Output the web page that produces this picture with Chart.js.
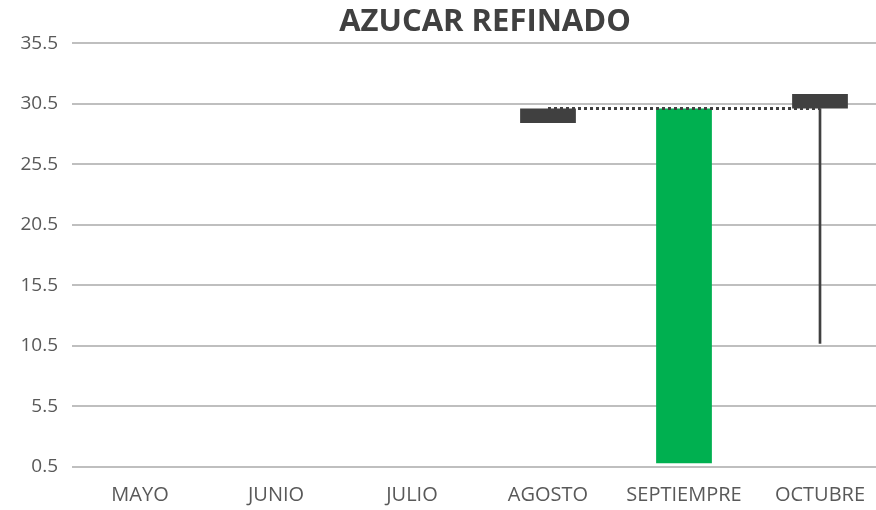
<!DOCTYPE html>
<html>
<head>
<meta charset="utf-8">
<script src="https://cdn.jsdelivr.net/npm/chart.js@4"></script>
<style>
    html, body { margin: 0; padding: 0; background: #fff; overflow: hidden; }
    #wrap { width: 970px; height: 510px; }
</style>
</head>
<body>
<div id="wrap"><canvas id="chart" width="970" height="510"></canvas></div>
<script>
// Chart data
const months = ['MAYO', 'JUNIO', 'JULIO', 'AGOSTO', 'SEPTIEMPRE', 'OCTUBRE'];
const darkBars = [null, null, null, [28.9, 30.1], null, [30.1, 31.3]];
const greenBars = [null, null, null, null, [0.8, 30.1], null];
const whisker = [null, null, null, null, null, [10.7, 30.1]];
const refLine = [null, null, null, 30.1, 30.1, 30.1];
const yTicks = [0.5, 5.5, 10.5, 15.5, 20.5, 25.5, 30.5, 35.5];

const ctx = document.getElementById('chart').getContext('2d');
new Chart(ctx, {
    type: 'bar',
    data: {
        labels: months,
        datasets: [
            {
                type: 'line',
                data: refLine,
                borderColor: '#404040',
                borderWidth: 3,
                borderDash: [3, 3],
                pointRadius: 0,
                fill: false,
                order: 0
            },
            {
                data: darkBars,
                backgroundColor: '#404040',
                grouped: false,
                categoryPercentage: 1,
                barPercentage: 0.41,
                order: 1
            },
            {
                data: greenBars,
                backgroundColor: '#00b050',
                grouped: false,
                categoryPercentage: 1,
                barPercentage: 0.41,
                order: 1
            },
            {
                data: whisker,
                backgroundColor: '#404040',
                grouped: false,
                barThickness: 2,
                order: 2
            }
        ]
    },
    options: {
        responsive: false,
        animation: false,
        layout: { padding: 0 },
        plugins: {
            legend: { display: false },
            tooltip: { enabled: false },
            title: {
                display: true,
                text: 'AZUCAR REFINADO',
                color: '#404040',
                font: { family: 'Open Sans', size: 31, weight: 'bold' },
                padding: { top: 4, bottom: 2 }
            }
        },
        scales: {
            x: {
                grid: { display: false, drawTicks: false },
                border: { display: false },
                afterFit: (axis) => { axis.height = 43; },
                ticks: {
                    color: '#595959',
                    font: { family: 'Open Sans', size: 20 },
                    padding: 16,
                    maxRotation: 0,
                    autoSkip: false
                }
            },
            y: {
                min: 0.5,
                max: 35.5,
                afterBuildTicks: (axis) => {
                    axis.ticks = yTicks.map(v => ({ value: v }));
                },
                afterFit: (axis) => { axis.width = 72; },
                grid: { color: '#bfbfbf', lineWidth: 2, drawTicks: false },
                border: { display: false },
                ticks: {
                    color: '#595959',
                    font: { family: 'Open Sans', size: 19 },
                    padding: 14,
                    callback: (v) => v.toFixed(1)
                }
            },
            // empty right-hand axis, only reserves room so the plot runs past the cut edge
            yRight: {
                position: 'right',
                min: 0.5,
                max: 35.5,
                grid: { display: false, drawTicks: false },
                border: { display: false },
                ticks: { display: false },
                afterFit: (axis) => { axis.width = 82; }
            }
        }
    }
});
</script>
</body>
</html>
